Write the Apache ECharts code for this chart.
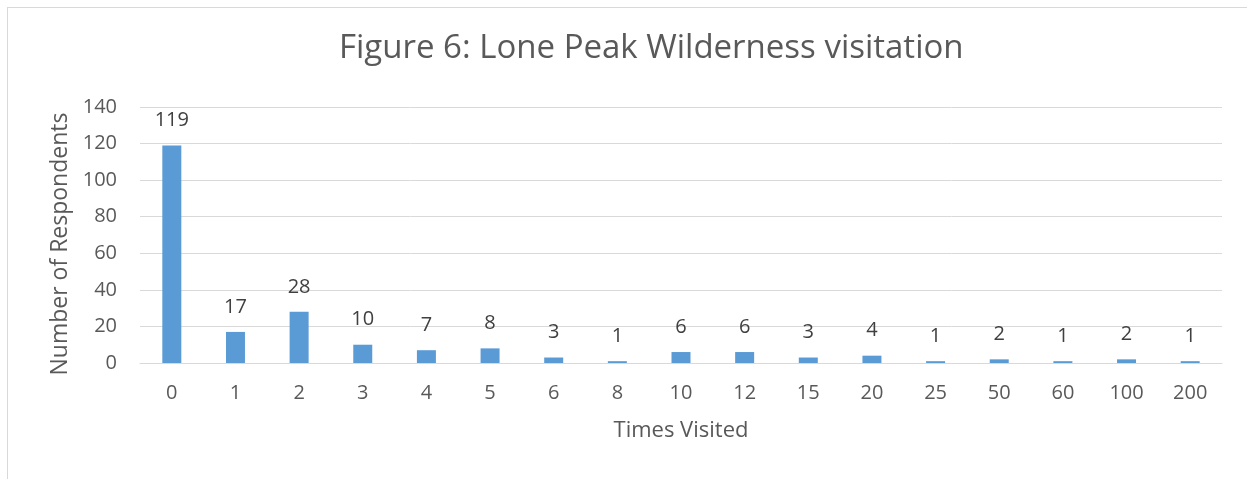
<!DOCTYPE html>
<html>
<head>
<meta charset="utf-8">
<script src="https://cdn.jsdelivr.net/npm/echarts@6/dist/echarts.min.js"></script>
<style>
  html, body { margin: 0; padding: 0; background: #fff; }
  #frame { position: absolute; left: 7px; top: 7px; width: 1260px; height: 500px; border: 1px solid #d9d9d9; box-sizing: border-box; }
  #chart { position: absolute; left: 0; top: 0; width: 1247px; height: 479px; }
</style>
</head>
<body>
<div id="frame"></div>
<div id="chart"></div>
<script>
// categories and values
var timesVisited = ['0', '1', '2', '3', '4', '5', '6', '8', '10', '12', '15', '20', '25', '50', '60', '100', '200'];
var respondents = [119, 17, 28, 10, 7, 8, 3, 1, 6, 6, 3, 4, 1, 2, 1, 2, 1];

var fontName = '"Open Sans", "Liberation Sans", sans-serif';

var myChart = echarts.init(document.getElementById('chart'));
var option = {
  backgroundColor: 'transparent',
  animation: false,
  title: {
    text: 'Figure 6: Lone Peak Wilderness visitation',
    left: 334,
    top: 27,
    textStyle: { fontFamily: fontName, fontSize: 33, fontWeight: 'normal', color: '#595959' }
  },
  grid: { left: 140, right: 25, top: 107, bottom: 116 },
  xAxis: {
    type: 'category',
    data: timesVisited,
    name: 'Times Visited',
    nameLocation: 'middle',
    nameGap: 57,
    nameTextStyle: { fontFamily: fontName, fontSize: 22, color: '#595959' },
    axisLine: { lineStyle: { color: '#d9d9d9', width: 1 } },
    axisTick: { show: false },
    axisLabel: { fontFamily: fontName, fontSize: 20, color: '#595959', margin: 20 }
  },
  yAxis: {
    type: 'value',
    min: 0,
    max: 140,
    interval: 20,
    name: 'Number of Respondents',
    nameLocation: 'middle',
    nameGap: 68,
    nameTextStyle: { fontFamily: fontName, fontSize: 23, color: '#595959', padding: [0, 18, 0, 0] },
    axisLine: { show: false },
    axisTick: { show: false },
    axisLabel: { fontFamily: fontName, fontSize: 20, color: '#595959', margin: 23 },
    splitLine: { lineStyle: { color: '#d9d9d9', width: 1 } }
  },
  series: [
    {
      type: 'bar',
      data: respondents,
      barWidth: 19,
      itemStyle: { color: '#5b9bd5' },
      label: {
        show: true,
        position: 'top',
        distance: 15,
        fontFamily: fontName,
        fontSize: 20,
        color: '#404040'
      }
    }
  ]
};
myChart.setOption(option);
</script>
</body>
</html>
